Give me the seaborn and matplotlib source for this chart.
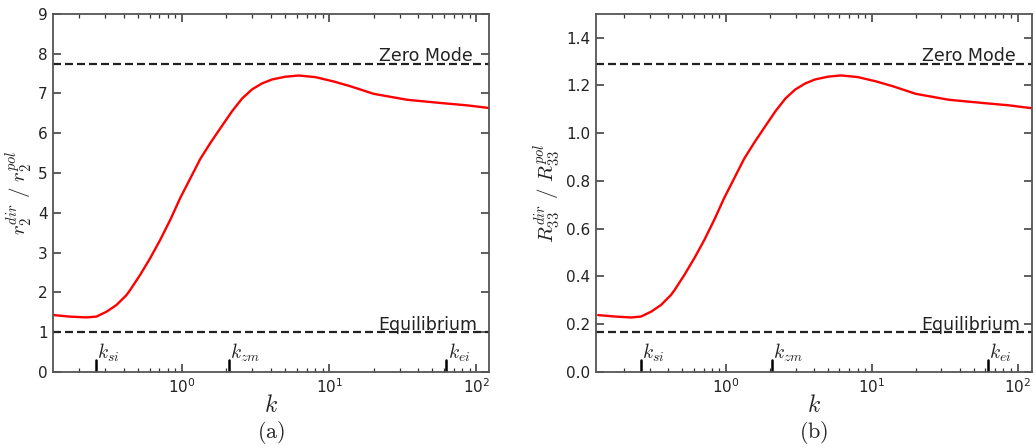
import numpy as np
import pandas as pd
import matplotlib
matplotlib.use("Agg")
import matplotlib.pyplot as plt
import seaborn as sns

# sampled wavenumbers
k_vals = [0.1325, 0.172, 0.223, 0.261, 0.305, 0.357, 0.418, 0.443, 0.518, 0.606,
          0.709, 0.829, 0.969, 1.13, 1.33, 1.57, 1.86, 2.18, 2.55, 2.98,
          3.48, 4.07, 5.02, 6.18, 8.03, 10.7, 13.9, 20.0, 33.8, 56.9,
          86.5, 124.0]
# ratio r2_dir / r2_pol
r2_ratio = [1.43, 1.39, 1.37, 1.39, 1.51, 1.68, 1.93, 2.06, 2.44, 2.86,
            3.32, 3.82, 4.37, 4.85, 5.36, 5.78, 6.18, 6.55, 6.87, 7.10,
            7.25, 7.35, 7.42, 7.45, 7.41, 7.30, 7.18, 6.99, 6.84, 6.76,
            6.70, 6.63]
# ratio R33_dir / R33_pol
R33_ratio = [0.238, 0.232, 0.228, 0.232, 0.252, 0.280, 0.322, 0.343, 0.407, 0.477,
             0.553, 0.637, 0.728, 0.808, 0.893, 0.963, 1.030, 1.092, 1.145, 1.183,
             1.208, 1.225, 1.237, 1.242, 1.235, 1.217, 1.197, 1.165, 1.140, 1.127,
             1.117, 1.105]

zero_mode = [7.74, 1.29]
equilibrium = [1.0, 1.0 / 6.0]
ylims = [(0, 9), (0, 1.5)]
xlims = [(0.1325, 122), (0.128, 126)]
yticks = [list(range(0, 10)), [0.0, 0.2, 0.4, 0.6, 0.8, 1.0, 1.2, 1.4]]
ytick_labels = [[str(v) for v in range(0, 10)],
                ["0.0", "0.2", "0.4", "0.6", "0.8", "1.0", "1.2", "1.4"]]
ylabels = [r"$r_2^{dir}\ /\ r_2^{pol}$", r"$R_{33}^{dir}\ /\ R_{33}^{pol}$"]
captions = [r"$\mathrm{(a)}$", r"$\mathrm{(b)}$"]

k_marks = [0.26, 2.07, 62.5]
k_mark_labels = [r"$k_{si}$", r"$k_{zm}$", r"$k_{ei}$"]

sns.set_style("ticks")
plt.rcParams.update({
    "font.family": ["DejaVu Sans"],
    "mathtext.fontset": "cm",
    "axes.edgecolor": "#555555",
    "axes.linewidth": 1.3,
    "xtick.direction": "in",
    "ytick.direction": "in",
    "xtick.top": True,
    "ytick.right": True,
    "xtick.color": "#333333",
    "ytick.color": "#333333",
    "xtick.labelcolor": "#222222",
    "ytick.labelcolor": "#222222",
})

df = pd.DataFrame({"k": k_vals, "r2": r2_ratio, "R33": R33_ratio})

fig = plt.figure(figsize=(10.36, 4.47), dpi=100)
axes = [fig.add_axes([0.0512, 0.168, 0.421, 0.801]),
        fig.add_axes([0.5753, 0.168, 0.421, 0.801])]

dash = (0, (3.6, 1.8))

for i, (ax, col) in enumerate(zip(axes, ["r2", "R33"])):
    sns.lineplot(data=df, x="k", y=col, ax=ax, color="red", lw=1.7)
    ax.set_xscale("log")
    ax.set_xlim(*xlims[i])
    ax.set_ylim(*ylims[i])
    ax.set_yticks(yticks[i])
    ax.set_yticklabels(ytick_labels[i])
    ax.tick_params(which="major", length=6, width=1.1, labelsize=11, pad=4)
    ax.tick_params(which="minor", length=3, width=0.9)
    ax.tick_params(axis="y", which="minor", left=False, right=False)
    for sp in ax.spines.values():
        sp.set_visible(True)

    ax.axhline(zero_mode[i], color="#222222", lw=1.6, ls=dash)
    ax.axhline(equilibrium[i], color="#222222", lw=1.6, ls=dash)
    ax.annotate("Zero Mode", xy=(0.963, zero_mode[i]),
                xycoords=("axes fraction", "data"), xytext=(0, 2.5),
                textcoords="offset points", ha="right", va="baseline",
                fontsize=12.5, color="#222222")
    ax.annotate("Equilibrium", xy=(0.972, equilibrium[i]),
                xycoords=("axes fraction", "data"), xytext=(0, 1.5),
                textcoords="offset points", ha="right", va="baseline",
                fontsize=12.5, color="#222222")

    for km, kl in zip(k_marks, k_mark_labels):
        ax.axvline(km, ymin=0, ymax=0.034, color="black", lw=1.8)
        ax.text(km * 1.02, 0.022, kl, transform=ax.get_xaxis_transform(),
                ha="left", va="bottom", fontsize=14, color="#222222")

    ax.set_xlabel(r"$k$", fontsize=17, color="#222222", labelpad=-2)
    ax.set_ylabel(ylabels[i], fontsize=15, color="#222222", labelpad=2)
    ax.text(0.5, -0.170, captions[i], transform=ax.transAxes, ha="center",
            va="center", fontsize=16, color="#222222")

fig.savefig("out.png", dpi=100)
